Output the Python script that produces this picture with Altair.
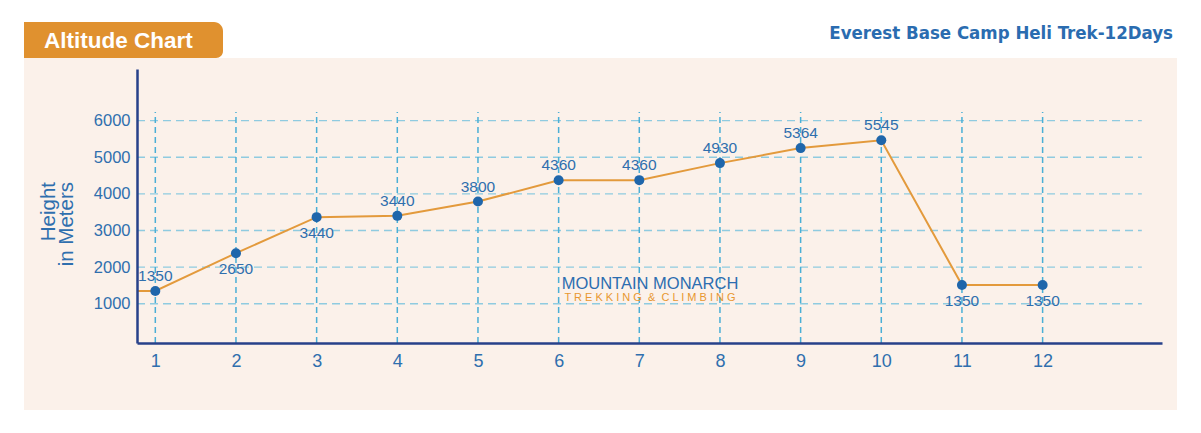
import altair as alt
import pandas as pd

# ---------------- data ----------------
days = list(range(1, 13))
plotted_heights = [1350, 2380, 3365, 3400, 3790, 4370, 4375, 4840, 5250, 5465, 1510, 1510]
height_labels = ["1350", "2650", "3440", "3440", "3800", "4360", "4360", "4930", "5364", "5545", "1350", "1350"]
label_side = ["above", "below", "below", "above", "above", "above", "above", "above", "above", "above", "below", "below"]
y_ticks = [1000, 2000, 3000, 4000, 5000, 6000]
lead_in_day = 0
lead_in_height = 1350

chart_title = "Everest Base Camp Heli Trek-12Days"
tab_title = "Altitude Chart"
y_title = ["Height", "in Meters"]
logo_name = "MOUNTAIN MONARCH"
logo_sub = "T R E K K I N G\u00a0 & \u00a0C L I M B I N G"

# ---------------- style ----------------
X_DOMAIN = [0.773, 13.48]
Y_DOMAIN = [-72, 7410]
HGRID_END = 13.23
VGRID_TOP = 6237
W, H = 1025, 274

BLUE = "#2f6fae"
POINT_BLUE = "#1f66ab"
ORANGE = "#e39a3c"
NAVY = "#27418a"
PANEL = "#fbf1ea"
TAB = "#e0912f"
GRID_H = "#8fcbe0"
GRID_V = "#4aafd6"
FONT = "Liberation Sans"

df = pd.DataFrame({"day": days, "height": plotted_heights, "label": height_labels, "side": label_side})
line_df = pd.concat([pd.DataFrame({"day": [lead_in_day], "height": [lead_in_height]}),
                     df[["day", "height"]]], ignore_index=True)
hgrid = pd.DataFrame({"y": y_ticks, "x1": X_DOMAIN[0], "x2": HGRID_END})
vgrid = pd.DataFrame({"x": days, "y1": Y_DOMAIN[0], "y2": VGRID_TOP})

xs = alt.Scale(domain=X_DOMAIN, nice=False, zero=False)
ys = alt.Scale(domain=Y_DOMAIN, nice=False, zero=False)

one = alt.Data(values=[{"k": 1}])

panel = alt.Chart(one).mark_rect(color=PANEL).encode(
    x=alt.value(-113), x2=alt.value(1040), y=alt.value(-11), y2=alt.value(341))
tab = alt.Chart(one).mark_rect(color=TAB, cornerRadiusTopRight=9, cornerRadiusBottomRight=7).encode(
    x=alt.value(-113), x2=alt.value(86), y=alt.value(-47), y2=alt.value(-11))
tab_text = alt.Chart(one).mark_text(text=tab_title, font=FONT, fontSize=22.5, fontWeight="bold",
                                    color="white", align="left", baseline="alphabetic").encode(
    x=alt.value(-93), y=alt.value(-21))
title_text = alt.Chart(one).mark_text(text=chart_title, font="Liberation Sans Narrow, DejaVu Sans Condensed, sans-serif",
                                      fontSize=18.5, fontWeight="bold", color="#2a6cb0",
                                      align="right", baseline="alphabetic").encode(
    x=alt.value(1036), y=alt.value(-30))
ytitle_text = alt.Chart(one).mark_text(text=y_title, font=FONT, fontSize=20.5, color=BLUE, angle=270,
                                       align="right", baseline="alphabetic", lineHeight=18).encode(
    x=alt.value(-82), y=alt.value(113))
logo1 = alt.Chart(one).mark_text(text=logo_name, font=FONT, fontSize=16.5, color="#2c6db0",
                                 align="center", baseline="alphabetic").encode(
    x=alt.value(513), y=alt.value(220))
logo2 = alt.Chart(one).mark_text(text=logo_sub, font=FONT, fontSize=11, color="#e8972f",
                                 align="center", baseline="alphabetic").encode(
    x=alt.value(513), y=alt.value(232))

hrules = alt.Chart(hgrid).mark_rule(color=GRID_H, strokeWidth=1.3, strokeDash=[8, 5]).encode(
    x=alt.X("x1:Q", scale=xs, title=""), x2="x2:Q", y=alt.Y("y:Q", scale=ys, title=""))
vrules = alt.Chart(vgrid).mark_rule(color=GRID_V, strokeWidth=1.5, strokeDash=[6, 4]).encode(
    x=alt.X("x:Q", scale=xs, title=""), y=alt.Y("y1:Q", scale=ys, title=""), y2="y2:Q")

line = alt.Chart(line_df).mark_line(color=ORANGE, strokeWidth=2, clip=True).encode(
    x=alt.X("day:Q", scale=xs, title="",
            axis=alt.Axis(values=days, format="d", grid=False, ticks=False, domainColor=NAVY,
                          domainWidth=2.5, labelColor=BLUE, labelFont=FONT, labelFontSize=18,
                          labelPadding=9, zindex=2)),
    y=alt.Y("height:Q", scale=ys, title="",
            axis=alt.Axis(values=y_ticks, format="d", grid=False, ticks=False, domainColor=NAVY,
                          domainWidth=2.5, labelColor=BLUE, labelFont=FONT, labelFontSize=16.5,
                          labelPadding=7, zindex=2)))

points = alt.Chart(df).mark_circle(color=POINT_BLUE, size=100, opacity=1).encode(
    x=alt.X("day:Q", scale=xs), y=alt.Y("height:Q", scale=ys))

labels_above = alt.Chart(df).transform_filter(alt.datum.side == "above").mark_text(
    font=FONT, fontSize=15.5, color=BLUE, baseline="alphabetic", dy=-10).encode(
    x=alt.X("day:Q", scale=xs), y=alt.Y("height:Q", scale=ys), text="label:N")
labels_below = alt.Chart(df).transform_filter(alt.datum.side == "below").mark_text(
    font=FONT, fontSize=15.5, color=BLUE, baseline="top", dy=9).encode(
    x=alt.X("day:Q", scale=xs), y=alt.Y("height:Q", scale=ys), text="label:N")

chart = alt.layer(
    panel, tab, tab_text, title_text, ytitle_text,
    hrules, vrules, logo1, logo2, line, points, labels_above, labels_below
).properties(
    width=W, height=H,
    padding={"left": 129, "top": 61, "right": 31, "bottom": 82},
    autosize=alt.AutoSizeParams(type="none"),
    background="white",
).configure_view(strokeWidth=0)

chart.save("out.html", embed_options={"renderer": "svg", "actions": False})
